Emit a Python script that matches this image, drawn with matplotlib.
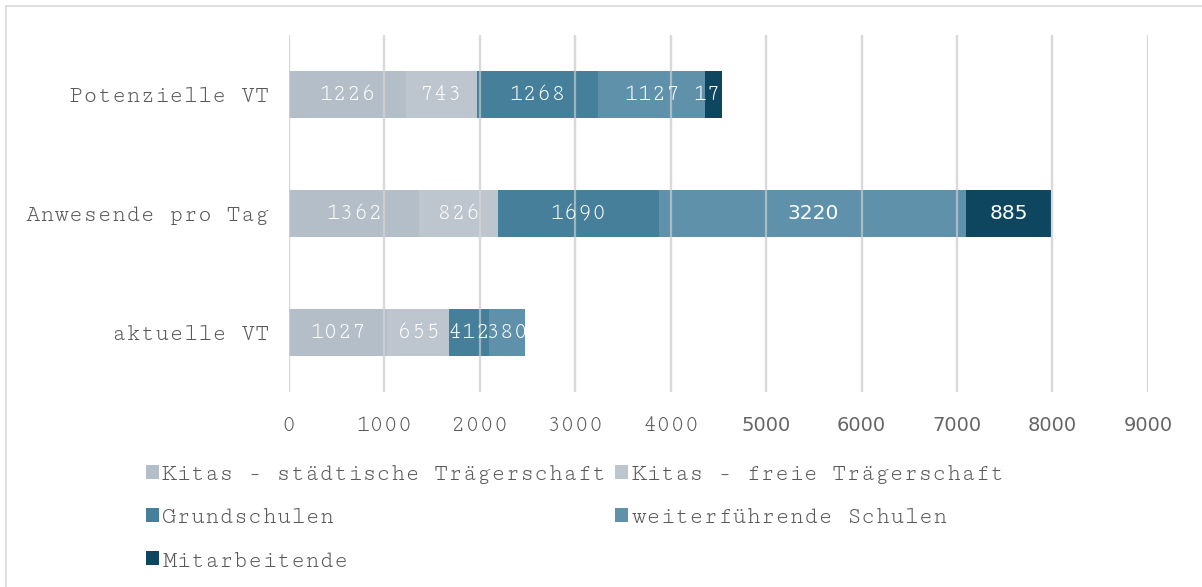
import matplotlib
matplotlib.use("Agg")
import matplotlib.pyplot as plt
from matplotlib.patches import Rectangle

categories = ["aktuelle VT", "Anwesende pro Tag", "Potenzielle VT"]
series = ["Kitas - städtische Trägerschaft", "Kitas - freie Trägerschaft",
          "Grundschulen", "weiterführende Schulen", "Mitarbeitende"]
kitas_staedt = [1027, 1362, 1226]
kitas_frei = [655, 826, 743]
grundschulen = [412, 1690, 1268]
weiterf = [380, 3220, 1127]
mitarb = [0, 885, 177]
xticks = [0, 1000, 2000, 3000, 4000, 5000, 6000, 7000, 8000, 9000]

values = [kitas_staedt, kitas_frei, grundschulen, weiterf, mitarb]
colors = ["#b4bec8", "#bdc5cf", "#467f99", "#5f91aa", "#0e455f"]
mono = ["Cutive Mono", "Courier Prime", "Liberation Mono"]
sans = ["DejaVu Sans"]
grey = "#595959"
fs = 17

fig = plt.figure(figsize=(12.02, 5.87), dpi=100)
ax = fig.add_axes([0.2404, 0.3322, 0.7146, 0.6082])

y = list(range(len(categories)))
left = [0] * len(categories)
handles = []
for name, vals, col in zip(series, values, colors):
    bars = ax.barh(y, vals, left=left, height=0.40, color=col, label=name, zorder=2)
    handles.append(bars)
    for yi, v, l in zip(y, vals, left):
        if v > 0:
            cx = l + v / 2
            if cx > 4600:
                ax.text(cx, yi, str(v), ha="center", va="center", color="white",
                        fontsize=fs - 2.5, family=sans, zorder=4)
            else:
                ax.text(cx, yi, str(v), ha="center", va="center", color="white",
                        fontsize=fs, family=mono, zorder=4)
    left = [a + b for a, b in zip(left, vals)]

ax.set_xlim(0, 9000)
ax.set_ylim(-0.5, 2.5)
ax.set_xticks(xticks)
ax.set_xticklabels([str(t) for t in xticks])
for t, lab in zip(xticks, ax.get_xticklabels()):
    lab.set_family(sans if t >= 5000 else mono)
    lab.set_fontsize(fs if t < 5000 else fs - 3)
    lab.set_color(grey if t < 5000 else "#666666")
ax.set_yticks(y)
ax.set_yticklabels(categories, family=mono, fontsize=fs, color=grey)
ax.tick_params(axis="x", length=0, pad=17)
ax.tick_params(axis="y", length=0, pad=14)
for s in ax.spines.values():
    s.set_visible(False)
for t in xticks:
    ax.axvline(t, color="#d9d9d9", lw=1.6, zorder=3, alpha=0.6)
    ax.axvline(t, color="#d9d9d9", lw=1.6, zorder=1)

order = [0, 2, 4, 1, 3]
fig.legend([handles[i] for i in order], [series[i] for i in order],
           loc="upper left", bbox_to_anchor=(0.1213, 0.208), ncol=2,
           frameon=False, prop={"family": mono, "size": fs},
           handlelength=0.55, handleheight=0.55, handletextpad=0.15,
           columnspacing=0.37, labelspacing=1.0, borderpad=0, borderaxespad=0,
           labelcolor=grey)

fig.patches.append(Rectangle((6 / 1202, -0.01), 1.2, 1 - 6 / 587 + 0.01,
                             transform=fig.transFigure, fill=False,
                             edgecolor="#d9d9d9", lw=1.2))

fig.savefig("out.png", dpi=100)
